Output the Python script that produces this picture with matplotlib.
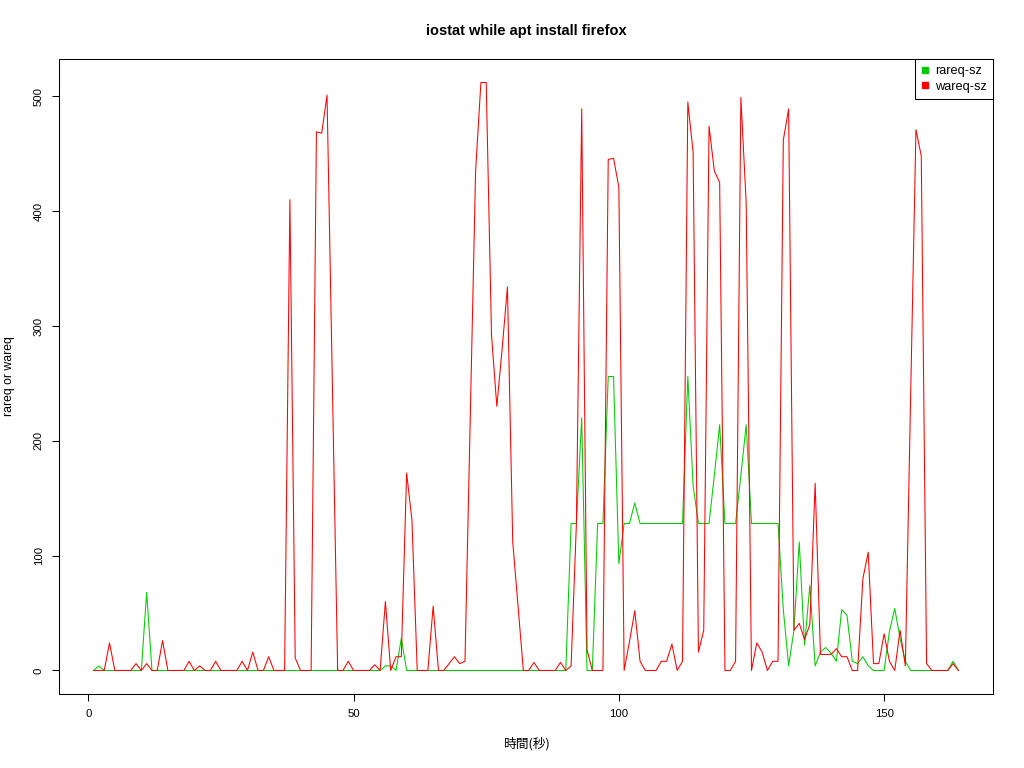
import matplotlib
matplotlib.use("Agg")
import matplotlib.pyplot as plt
from matplotlib.lines import Line2D

# iostat samples, one per second
rareq = [0, 4, 0, 0, 0, 0, 0, 0, 0, 0,
         68, 0, 0, 0, 0, 0, 0, 0, 0, 0,
         0, 0, 0, 0, 0, 0, 0, 0, 0, 0,
         0, 0, 0, 0, 0, 0, 0, 0, 0, 0,
         0, 0, 0, 0, 0, 0, 0, 0, 0, 0,
         0, 0, 0, 0, 0, 4, 4, 0, 28, 0,
         0, 0, 0, 0, 0, 0, 0, 0, 0, 0,
         0, 0, 0, 0, 0, 0, 0, 0, 0, 0,
         0, 0, 0, 0, 0, 0, 0, 0, 0, 0,
         128, 128, 220, 0, 0, 128, 128, 256, 256, 93,
         128, 128, 146, 128, 128, 128, 128, 128, 128, 128,
         128, 128, 256, 161, 128, 128, 128, 170, 214, 128,
         128, 128, 170, 214, 128, 128, 128, 128, 128, 128,
         53, 4, 35, 112, 22, 74, 4, 16, 20, 15,
         8, 53, 48, 8, 6, 12, 4, 0, 0, 0,
         34, 54, 28, 8, 0, 0, 0, 0, 0, 0,
         0, 0, 8, 0]

wareq = [0, 0, 0, 24, 0, 0, 0, 0, 6, 0,
         6, 0, 0, 26, 0, 0, 0, 0, 8, 0,
         4, 0, 0, 8, 0, 0, 0, 0, 8, 0,
         16, 0, 0, 12, 0, 0, 0, 410, 11, 0,
         0, 0, 469, 468, 501, 250, 0, 0, 8, 0,
         0, 0, 0, 5, 0, 60, 0, 12, 12, 172,
         131, 0, 0, 0, 56, 0, 0, 6, 12, 6,
         8, 220, 435, 512, 512, 292, 230, 280, 334, 112,
         56, 0, 0, 7, 0, 0, 0, 0, 7, 0,
         4, 128, 489, 18, 0, 0, 0, 445, 446, 421,
         0, 25, 52, 8, 0, 0, 0, 8, 8, 23,
         0, 8, 495, 451, 16, 35, 474, 435, 425, 0,
         0, 8, 499, 407, 0, 24, 16, 0, 8, 8,
         462, 489, 35, 41, 27, 40, 163, 14, 14, 14,
         19, 12, 12, 0, 0, 80, 103, 6, 6, 32,
         8, 0, 35, 4, 240, 471, 448, 6, 0, 0,
         0, 0, 6, 0]

t = list(range(1, len(rareq) + 1))

xticks = [0, 50, 100, 150]
yticks = [0, 100, 200, 300, 400, 500]

plt.rcParams['font.family'] = ['Liberation Sans', 'DejaVu Sans']

fig = plt.figure(figsize=(10.24, 7.68), dpi=100)
ax = fig.add_axes([59 / 1024, 1 - 694 / 768, (993 - 59) / 1024, (694 - 59) / 768])

ax.plot(t, rareq, color='#00cd00', lw=0.75)
ax.plot(t, wareq, color='#ff0000', lw=0.75)

# R style 4% padding
xr = max(t) - min(t)
ax.set_xlim(min(t) - 0.04 * xr, max(t) + 0.04 * xr)
ax.set_ylim(-0.04 * 512, 512 * 1.04)

ax.set_xticks(xticks)
ax.set_yticks(yticks)
ax.tick_params(direction='out', length=5, width=0.75, labelsize=8.2, pad=6)
for lbl in ax.get_yticklabels():
    lbl.set_rotation(90)
    lbl.set_va('center')
for s in ax.spines.values():
    s.set_linewidth(0.75)

fig.text(526 / 1024, 1 - 31 / 768, 'iostat while apt install firefox',
         ha='center', va='center', fontsize=10.5, fontweight='bold')
fig.text(526 / 1024, 1 - 744 / 768, '時間(秒)', ha='center', va='center',
         fontsize=9.2, family=['Noto Sans CJK JP', 'DejaVu Sans'])
fig.text(9 / 1024, 1 - 376 / 768, 'rareq or wareq', ha='center', va='center',
         rotation=90, fontsize=8.8)

handles = [Line2D([], [], ls='', marker='s', ms=4.5, color='#00cd00'),
           Line2D([], [], ls='', marker='s', ms=4.5, color='#ff0000')]
leg = ax.legend(handles, ['rareq-sz', 'wareq-sz'], loc='upper right',
                bbox_to_anchor=(1, 1), borderaxespad=0, fontsize=9.2,
                fancybox=False, framealpha=1, edgecolor='black',
                handlelength=0.6, handletextpad=0.45, labelspacing=0.25,
                borderpad=0.5)
leg.get_frame().set_linewidth(0.75)

fig.savefig('out.png', dpi=100)
